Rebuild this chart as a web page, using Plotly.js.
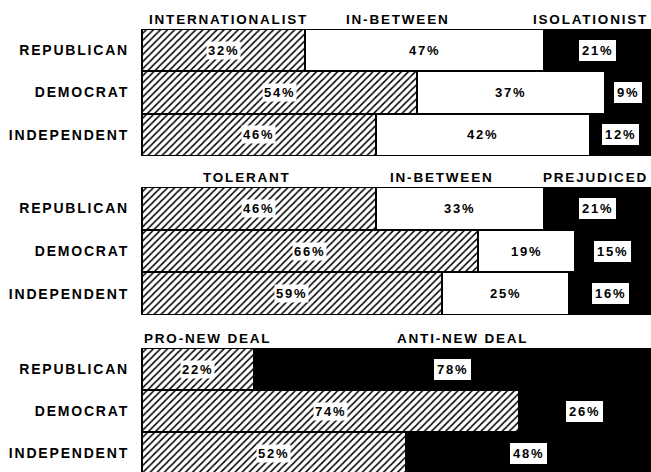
<!DOCTYPE html>
<html><head><meta charset="utf-8">
<script src="https://cdn.plot.ly/plotly-3.0.1.min.js"></script>
<style>
html,body{margin:0;padding:0;background:#fff;}
#chart{width:651px;height:472px;}
svg text{letter-spacing:1.8px;}
</style></head>
<body><div id="chart"></div>
<script>
const parties = ['REPUBLICAN','DEMOCRAT','INDEPENDENT'];

const panel1Labels = ['INTERNATIONALIST','IN-BETWEEN','ISOLATIONIST'];
const internationalist = [32,54,46];
const inBetween1 = [47,37,42];
const isolationist = [21,9,12];

const panel2Labels = ['TOLERANT','IN-BETWEEN','PREJUDICED'];
const tolerant = [46,66,59];
const inBetween2 = [33,19,25];
const prejudiced = [21,15,16];

const panel3Labels = ['PRO-NEW DEAL','ANTI-NEW DEAL'];
const proNewDeal = [22,74,52];
const antiNewDeal = [78,26,48];

const FONT = 'Liberation Sans, Arial, sans-serif';
const styles = {
  hatch: {color:'#fff', line:{color:'#000',width:2}, pattern:{shape:'/', fgcolor:'#000', bgcolor:'#fff', size:5, solidity:0.3}},
  white: {color:'#fff', line:{color:'#000',width:2}},
  black: {color:'#000', line:{color:'#000',width:2}}
};

const panels = [
  {series:[internationalist,inBetween1,isolationist], kinds:['hatch','white','black'], labels:panel1Labels,
   headerX:[17,50.3,99.9], headerAnchor:['center','center','right']},
  {series:[tolerant,inBetween2,prejudiced], kinds:['hatch','white','black'], labels:panel2Labels,
   headerX:[20.7,58.9,99.9], headerAnchor:['center','center','right']},
  {series:[proNewDeal,antiNewDeal], kinds:['hatch','black'], labels:panel3Labels,
   headerX:[0,63], headerAnchor:['left','center']}
];

const domains = [[0.6695,0.9386],[0.3326,0.6038],[0,0.2627]];
const yranges = [[2.5,-0.5],[2.5,-0.5],[2.45,-0.5]];

const traces = [];
const annotations = [];
const layout = {
  width:651, height:472,
  margin:{l:140,r:0,t:0,b:0},
  paper_bgcolor:'#fff', plot_bgcolor:'#fff',
  barmode:'stack', bargap:0, showlegend:false,
  font:{family:FONT, size:12, color:'#000', weight:'bold'},
  annotations:annotations
};

panels.forEach((p,pi)=>{
  const n = pi+1;
  const xa = n===1?'x':'x'+n, ya = n===1?'y':'y'+n;
  const xk = n===1?'xaxis':'xaxis'+n, yk = n===1?'yaxis':'yaxis'+n;
  layout[xk] = {domain:[0,1], range:[-0.3,100], visible:false, anchor:ya, fixedrange:true};
  layout[yk] = {domain:domains[pi], range:yranges[pi], type:'category', categoryarray:parties,
    anchor:xa, showgrid:false, zeroline:false, showline:false, ticks:'',
    ticklabelstandoff:10, tickfont:{family:FONT, size:14, color:'#000', weight:'bold'}};
  const cum = [0,0,0];
  p.series.forEach((vals,si)=>{
    const kind = p.kinds[si];
    traces.push({type:'bar', orientation:'h', x:vals, y:parties, xaxis:xa, yaxis:ya,
      marker:styles[kind], hoverinfo:'skip', width:1});
    vals.forEach((v,ci)=>{
      const a = {x:cum[ci]+v/2, y:parties[ci], xref:xa, yref:ya, text:v+'%', showarrow:false,
        font:{family:FONT, size:13, color:'#000', weight:'bold'}};
      if(kind==='hatch'){a.bgcolor='#fff'; a.borderpad=1;}
      if(kind==='black'){a.bgcolor='#fff'; a.bordercolor='#000'; a.borderwidth=1; a.borderpad=3;}
      annotations.push(a);
      cum[ci]+=v;
    });
  });
  p.labels.forEach((t,hi)=>{
    annotations.push({x:p.headerX[hi], y:1, xref:xa, yref:ya+' domain', xanchor:p.headerAnchor[hi],
      yanchor:'bottom', yshift:0, text:t, showarrow:false,
      font:{family:FONT, size:13.5, color:'#000', weight:'bold'}});
  });
});

Plotly.newPlot('chart', traces, layout, {staticPlot:true, displayModeBar:false});
</script></body></html>
